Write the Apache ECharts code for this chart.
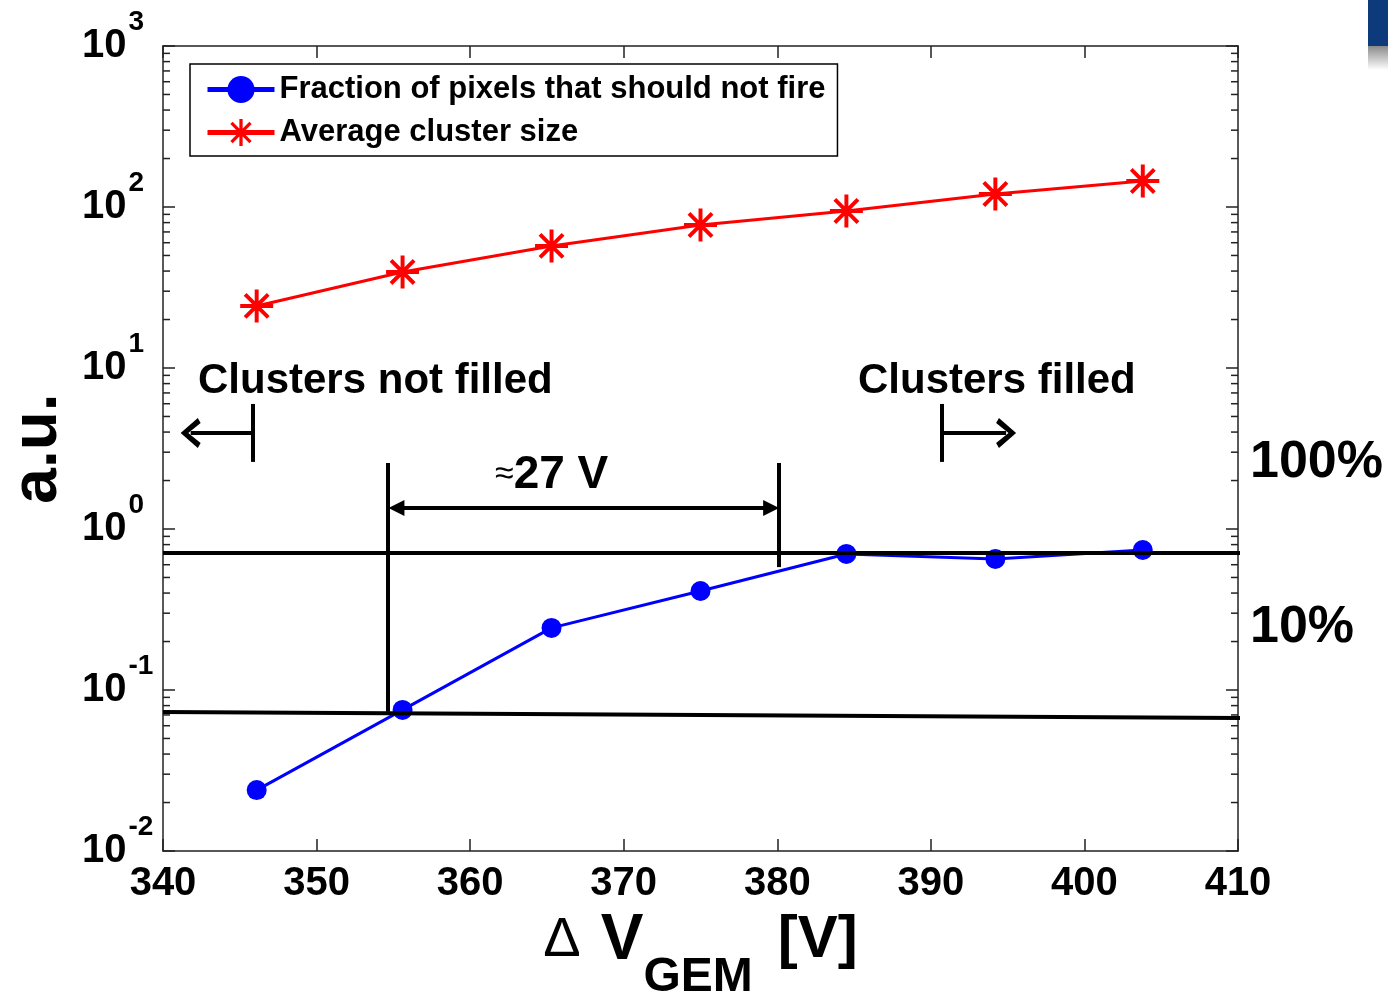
<!DOCTYPE html>
<html>
<head>
<meta charset="utf-8">
<title>Cluster size vs GEM voltage</title>
<script src="https://cdn.jsdelivr.net/npm/echarts@6/dist/echarts.min.js"></script>
<style>
  html, body { margin: 0; padding: 0; background: #fff; }
  #chart { width: 1388px; height: 992px; }
</style>
</head>
<body>
<div id="chart"></div>
<script>
  // data
  const voltage = [346.1, 355.6, 365.3, 375.0, 384.5, 394.2, 403.8]
  const pixelFraction = [0.0239, 0.0752, 0.243, 0.412, 0.7, 0.652, 0.741]
  const clusterSize = [24.3, 39.5, 57.3, 77.3, 94.4, 120.5, 145]

  const xMin = 340
  const xMax = 410
  const yMin = 0.01
  const yMax = 1000
  const minorMultipliers = [2, 3, 4, 5, 6, 7, 8, 9]
  const minorDecades = [0.01, 0.1, 1, 10, 100]

  // annotation lines (data coordinates)
  const upperLevel = [[340, 0.71], [410.4, 0.71]]
  const lowerLevel = [[340, 0.073], [410.4, 0.0671]]
  const spanLeft = [[354.65, 2.57], [354.65, 0.0732]]
  const spanRight = [[380.1, 2.57], [380.1, 0.58]]
  const spanArrow = [[355.2, 1.35], [379.6, 1.35]]
  const notFilledBar = [[345.86, 5.98], [345.86, 2.61]]
  const notFilledArrow = [[345.86, 3.95], [341.8, 3.95]]
  const filledBar = [[390.7, 5.98], [390.7, 2.61]]
  const filledArrow = [[390.7, 3.95], [394.9, 3.95]]

  const FONT = '"Liberation Sans", Arial, sans-serif'
  const asterisk = 'path://M44,0L56,0L56,100L44,100Z M0,44L100,44L100,56L0,56Z ' +
    'M19.2,10.8L89.2,80.8L80.8,89.2L10.8,19.2Z M89.2,19.2L19.2,89.2L10.8,80.8L80.8,10.8Z'
  const chevron = 'path://M0,18L12,0L24,18L20,21L12,8L4,21Z'

  const minorTicks = []
  minorDecades.forEach(d => minorMultipliers.forEach(m => minorTicks.push([xMin, m * d])))

  const seg = (pts, startSym, endSym, size) => [
    { coord: pts[0], symbol: startSym || 'none', symbolSize: size },
    { coord: pts[1], symbol: endSym || 'none', symbolSize: size }
  ]

  const levelLine = (name, pts) => ({
    name,
    type: 'line',
    data: pts,
    clip: false,
    silent: true,
    symbol: 'none',
    lineStyle: { color: '#000', width: 4 },
    z: 4
  })

  const chart = echarts.init(document.getElementById('chart'))

  chart.setOption({
    animation: false,
    backgroundColor: '#fff',
    textStyle: { fontFamily: FONT },
    grid: { left: 163, top: 46, right: 150, bottom: 141, outerBoundsMode: 'none', containLabel: false },
    legend: {
      data: ['Fraction of pixels that should not fire', 'Average cluster size'],
      orient: 'vertical',
      left: 190,
      top: 64,
      padding: [10, 12, 8, 15],
      itemGap: 12,
      itemWidth: 67,
      itemHeight: 34,
      borderColor: '#000',
      borderWidth: 1.5,
      backgroundColor: '#fff',
      lineStyle: { width: 5 },
      textStyle: { fontFamily: FONT, fontSize: 31, fontWeight: 'bold', color: '#000' }
    },
    xAxis: [
      {
        type: 'value',
        min: xMin,
        max: xMax,
        interval: 10,
        splitLine: { show: false },
        axisLine: { lineStyle: { color: '#222', width: 1.5 } },
        axisTick: { inside: true, length: 12, lineStyle: { color: '#222', width: 1.5 } },
        axisLabel: { margin: 13, color: '#000', fontSize: 40, fontWeight: 'bold', fontFamily: FONT },
        name: '{d|Δ}{v|V}{s|GEM}{w|[V]}',
        nameLocation: 'middle',
        nameGap: 25,
        nameTextStyle: {
          color: '#000',
          rich: {
            d: { fontSize: 56, fontFamily: FONT, color: '#000', padding: [0, 20, 0, 0] },
            v: { fontSize: 64, fontWeight: 'bold', fontFamily: FONT, color: '#000' },
            s: { fontSize: 48, fontWeight: 'bold', fontFamily: FONT, color: '#000', padding: [74, 25, 0, 0] },
            w: { fontSize: 60, fontWeight: 'bold', fontFamily: FONT, color: '#000' }
          }
        }
      },
      {
        type: 'value',
        position: 'top',
        min: xMin,
        max: xMax,
        interval: 10,
        splitLine: { show: false },
        axisLine: { lineStyle: { color: '#222', width: 1.5 } },
        axisTick: { inside: true, length: 12, lineStyle: { color: '#222', width: 1.5 } },
        axisLabel: { show: false }
      }
    ],
    yAxis: [
      {
        type: 'log',
        logBase: 10,
        min: yMin,
        max: yMax,
        splitNumber: 5,
        splitLine: { show: false },
        axisLine: { lineStyle: { color: '#222', width: 1.5 } },
        axisTick: { inside: true, length: 12, lineStyle: { color: '#222', width: 1.5 } },
        axisLabel: {
          margin: 81,
          align: 'left',
          formatter: v => '{b|10}{e|' + Math.round(Math.log10(v)) + '}',
          rich: {
            b: { fontSize: 40, fontWeight: 'bold', fontFamily: FONT, color: '#000' },
            e: { fontSize: 28, fontWeight: 'bold', fontFamily: FONT, color: '#000', padding: [0, 0, 48, 2] }
          }
        },
        name: 'a.u.',
        nameLocation: 'middle',
        nameRotate: 90,
        nameGap: 93,
        nameTextStyle: { fontSize: 64, fontWeight: 'bold', fontFamily: FONT, color: '#000' }
      },
      {
        type: 'log',
        logBase: 10,
        min: yMin,
        max: yMax,
        splitNumber: 5,
        position: 'right',
        splitLine: { show: false },
        axisLine: { lineStyle: { color: '#222', width: 1.5 } },
        axisTick: { inside: true, length: 12, lineStyle: { color: '#222', width: 1.5 } },
        axisLabel: { show: false }
      }
    ],
    graphic: [
      { type: 'rect', shape: { x: 1368, y: 0, width: 20, height: 46 }, style: { fill: '#0d3a7a' } },
      {
        type: 'rect',
        shape: { x: 1368, y: 46, width: 20, height: 24 },
        style: { fill: new echarts.graphic.LinearGradient(0, 0, 0, 1, [{ offset: 0, color: '#8a8a8a' }, { offset: 1, color: '#ffffff' }]) }
      },
      { type: 'text', left: 198, top: 360, style: { text: 'Clusters not filled', font: 'bold 42px ' + FONT, fill: '#000' } },
      { type: 'text', left: 858, top: 360, style: { text: 'Clusters filled', font: 'bold 42px ' + FONT, fill: '#000' } },
      {
        type: 'text',
        left: 495,
        top: 452,
        style: {
          text: '{a|≈}{b|27 V}',
          rich: {
            a: { fontSize: 34, fontFamily: FONT, fill: '#000' },
            b: { fontSize: 46, fontWeight: 'bold', fontFamily: FONT, fill: '#000' }
          }
        }
      },
      { type: 'text', left: 1250, top: 437, style: { text: '100%', font: 'bold 52px ' + FONT, fill: '#000' } },
      { type: 'text', left: 1250, top: 602, style: { text: '10%', font: 'bold 52px ' + FONT, fill: '#000' } }
    ],
    series: [
      {
        name: 'Fraction of pixels that should not fire',
        type: 'line',
        data: voltage.map((v, i) => [v, pixelFraction[i]]),
        symbol: 'circle',
        symbolSize: 20,
        itemStyle: { color: '#0000ff' },
        lineStyle: { color: '#0000ff', width: 3 },
        z: 3
      },
      {
        name: 'Average cluster size',
        type: 'line',
        data: voltage.map((v, i) => [v, clusterSize[i]]),
        symbol: asterisk,
        symbolSize: 33,
        itemStyle: { color: '#ff0000' },
        lineStyle: { color: '#ff0000', width: 3 },
        z: 3
      },
      levelLine('upper level', upperLevel),
      levelLine('lower level', lowerLevel),
      {
        name: 'annotations',
        type: 'line',
        data: [],
        clip: false,
        silent: true,
        z: 4,
        markLine: {
          silent: true,
          animation: false,
          label: { show: false },
          lineStyle: { color: '#000', width: 4, type: 'solid' },
          emphasis: { disabled: true },
          data: [
            seg(spanLeft),
            seg(spanRight),
            seg(spanArrow, 'triangle', 'triangle', [16, 16]),
            seg(notFilledBar),
            seg(notFilledArrow, 'none', chevron, [30, 20]),
            seg(filledBar),
            seg(filledArrow, 'none', chevron, [30, 20])
          ]
        }
      },
      {
        name: 'minor ticks',
        type: 'custom',
        silent: true,
        data: minorTicks,
        renderItem: (params, api) => {
          const l = api.coord([xMin, api.value(1)])
          const r = api.coord([xMax, api.value(1)])
          const style = { stroke: '#222', lineWidth: 1.5 }
          return {
            type: 'group',
            children: [
              { type: 'line', shape: { x1: l[0], y1: l[1], x2: l[0] + 7, y2: l[1] }, style },
              { type: 'line', shape: { x1: r[0] - 7, y1: r[1], x2: r[0], y2: r[1] }, style }
            ]
          }
        }
      }
    ]
  })
</script>
</body>
</html>
